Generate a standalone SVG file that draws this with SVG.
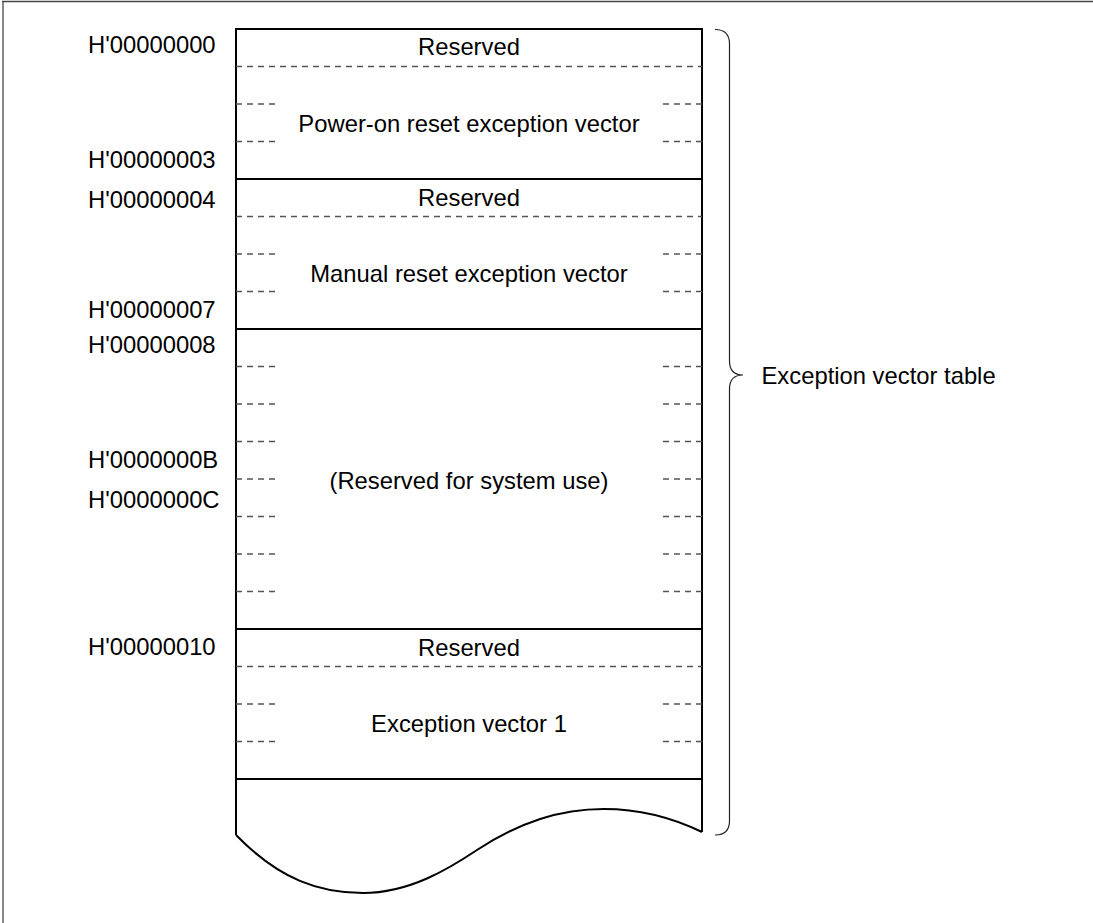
<svg xmlns="http://www.w3.org/2000/svg" width="1093" height="923" viewBox="0 0 1093 923">
<style>
text{font-family:"Liberation Sans",Arial,sans-serif;font-size:23.8px;fill:#000}
.mid{text-anchor:middle}
.solid{stroke:#000;stroke-width:2;fill:none}
.dash{stroke:#555;stroke-width:1.4;stroke-dasharray:6 5;fill:none}
.brace{stroke:#222;stroke-width:1.2;fill:none}
</style>
<rect width="1093" height="923" fill="#fff"/>
<g id="frame">
<line x1="3" y1="1.5" x2="3" y2="923" stroke="#888" stroke-width="2"/>
<line x1="2" y1="1.5" x2="1093" y2="1.5" stroke="#444" stroke-width="1.5"/>
</g>
<g id="labels">
<text x="88" y="53">H'00000000</text>
<text x="88" y="168">H'00000003</text>
<text x="88" y="208">H'00000004</text>
<text x="88" y="318">H'00000007</text>
<text x="88" y="353">H'00000008</text>
<text x="88" y="468">H'0000000B</text>
<text x="88" y="508">H'0000000C</text>
<text x="88" y="655">H'00000010</text>
</g>
<g id="table-outline">
<path class="solid" d="M236,835 V29 H702 V832"/>
<path class="solid" d="M236,835 C280,880 320,893 363,893 C410,893 450,868 477,850 C520,822 560,809 604,809 C640,809 675,819 702,832"/>
<line class="solid" x1="236" y1="779" x2="702" y2="779"/>
</g>
<g id="node-poweron">
<text class="mid" x="469" y="55">Reserved</text>
<line class="dash" x1="236" y1="66.5" x2="702" y2="66.5"/>
<path class="dash" d="M236,104 H275 M236,141.5 H275 M702,104 H663 M702,141.5 H663"/>
<text class="mid" x="469" y="131.5">Power-on reset exception vector</text>
<line class="solid" x1="236" y1="179" x2="702" y2="179"/>
</g>
<g id="node-manual">
<text class="mid" x="469" y="205.5">Reserved</text>
<line class="dash" x1="236" y1="216.5" x2="702" y2="216.5"/>
<path class="dash" d="M236,254 H275 M236,291.5 H275 M702,254 H663 M702,291.5 H663"/>
<text class="mid" x="469" y="281.5">Manual reset exception vector</text>
<line class="solid" x1="236" y1="329" x2="702" y2="329"/>
</g>
<g id="node-system">
<path class="dash" d="M236,366.5 H275 M236,404 H275 M236,441.5 H275 M236,479 H275 M236,516.5 H275 M236,554 H275 M236,591.5 H275 M702,366.5 H663 M702,404 H663 M702,441.5 H663 M702,479 H663 M702,516.5 H663 M702,554 H663 M702,591.5 H663"/>
<text class="mid" x="469" y="488.5">(Reserved for system use)</text>
<line class="solid" x1="236" y1="629" x2="702" y2="629"/>
</g>
<g id="node-vector1">
<text class="mid" x="469" y="656">Reserved</text>
<line class="dash" x1="236" y1="666.5" x2="702" y2="666.5"/>
<path class="dash" d="M236,704 H275 M236,741.5 H275 M702,704 H663 M702,741.5 H663"/>
<text class="mid" x="469" y="731.5">Exception vector 1</text>
</g>
<g id="connectors">
<path class="brace" d="M715,29.5 Q729.5,29.5 729.5,44 L729.5,361 Q729.5,375 743,375 Q729.5,375 729.5,389 L729.5,821 Q729.5,835 715,835"/>
</g>
<g id="node-table-label">
<text x="761.5" y="384">Exception vector table</text>
</g>
</svg>
